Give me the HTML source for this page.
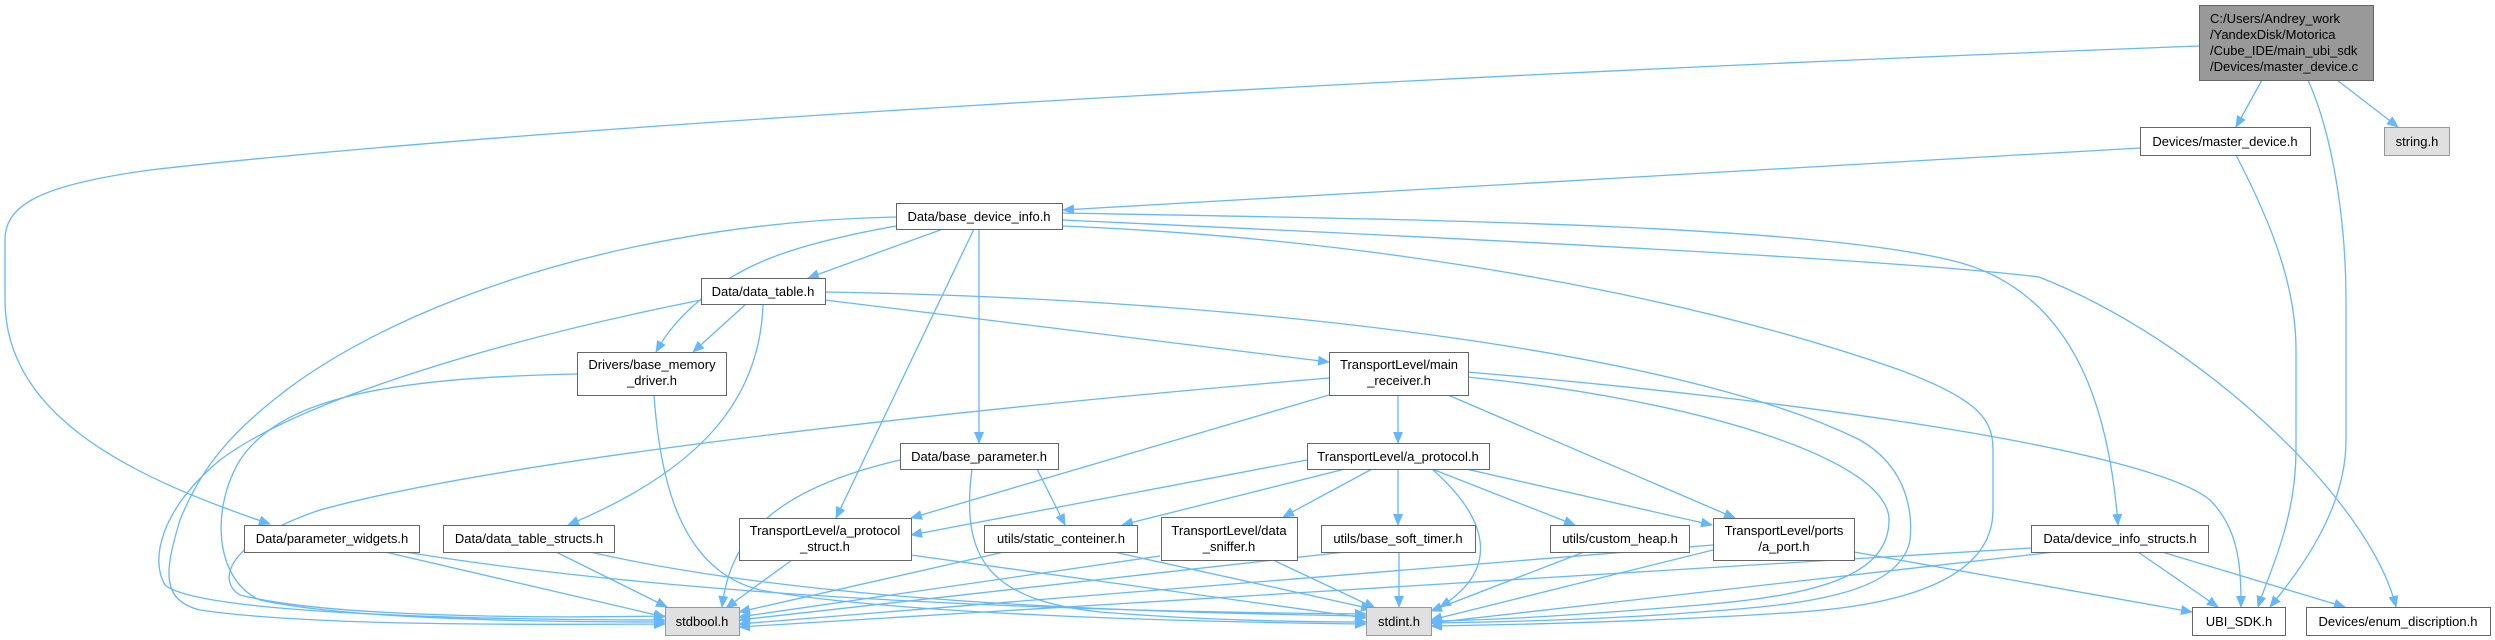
<!DOCTYPE html>
<html><head><meta charset="utf-8">
<style>
html,body{margin:0;padding:0;background:#fff;}
svg{display:block;}
text{font-family:"Liberation Sans",Arial,sans-serif;font-size:13px;fill:#000;}
.e{fill:none;stroke:#63b8ff;stroke-width:1.3;}
.n{fill:#fff;stroke:#666;stroke-width:1;}
.g{fill:#e0e0e0;stroke:#999;stroke-width:1;}
.t{fill:#999;stroke:#666;stroke-width:1;}
</style></head><body>
<svg width="2495" height="640" viewBox="0 0 2495 640" xmlns="http://www.w3.org/2000/svg">
<defs>
<marker id="a" markerWidth="12" markerHeight="10" refX="11" refY="5" orient="auto" markerUnits="userSpaceOnUse">
<path d="M0,0 L12,5 L0,10 z" fill="#63b8ff"/>
</marker>
</defs>
<g marker-end="url(#a)">
<!-- top -->
<path class="e" d="M2199,46 C1300,80 500,130 150,170 C40,185 5,205 5,240 L5,300 C5,420 140,480 270,524"/>
<path class="e" d="M2262,80 L2236,127"/>
<path class="e" d="M2337,80 L2398,127"/>
<path class="e" d="M2308,80 C2335,140 2346,230 2346,300 L2346,440 C2346,510 2300,570 2270,607"/>
<!-- master_device -->
<path class="e" d="M2140,148 L1063,210"/>
<path class="e" d="M2236,155 C2275,230 2296,290 2296,350 L2296,450 C2296,520 2270,570 2258,607"/>
<!-- base_device_info -->
<path class="e" d="M896,217 C650,222 430,290 300,380 C230,430 200,470 180,520 C165,570 160,600 200,610 C300,625 500,625 665,624"/>
<path class="e" d="M943,229 L808,278"/>
<path class="e" d="M896,226 C790,245 740,265 700,300 C670,325 660,345 656,352"/>
<path class="e" d="M974,229 L836,518"/>
<path class="e" d="M979,229 L979,443"/>
<path class="e" d="M1063,226 C1400,240 1700,300 1900,370 C1980,400 1993,420 1993,450 L1993,510 C1993,580 1900,605 1800,612 C1650,622 1500,625 1431,626"/>
<path class="e" d="M1063,213 C1450,220 1800,225 1950,260 C2080,290 2110,420 2118,525"/>
<path class="e" d="M1063,220 C1500,240 1900,260 2039,277 C2200,340 2370,500 2396,607"/>
<!-- data_table -->
<path class="e" d="M701,300 C500,340 300,400 220,460 C160,510 150,560 165,585 C200,615 500,620 665,620"/>
<path class="e" d="M746,304 L693,352"/>
<path class="e" d="M763,304 C760,400 700,470 568,525"/>
<path class="e" d="M825,300 L1329,362"/>
<path class="e" d="M825,292 C1300,300 1700,360 1860,440 C1912,470 1912,520 1910,540 C1900,595 1800,605 1700,612 C1600,620 1500,622 1431,623"/>
<!-- base_memory_driver -->
<path class="e" d="M577,374 C380,378 280,400 240,460 C210,510 215,580 260,600 C350,620 550,622 665,622"/>
<path class="e" d="M654,395 C660,480 680,570 760,590 C900,615 1200,622 1366,624"/>
<!-- main_receiver -->
<path class="e" d="M1329,378 C950,410 500,460 320,510 C230,540 215,580 240,595 C330,618 550,618 665,616"/>
<path class="e" d="M1329,395 L911,518"/>
<path class="e" d="M1398,395 L1398,443"/>
<path class="e" d="M1448,395 L1735,518"/>
<path class="e" d="M1467,377 C1700,400 1889,460 1889,520 C1889,575 1820,595 1700,605 C1580,615 1500,620 1431,621"/>
<path class="e" d="M1467,372 C1800,400 2150,450 2210,500 C2240,530 2241,570 2241,607"/>
<!-- base_parameter -->
<path class="e" d="M900,460 C770,490 730,540 722,607"/>
<path class="e" d="M1037,469 L1065,525"/>
<path class="e" d="M972,469 C960,560 990,600 1100,612 C1200,620 1300,622 1366,622"/>
<!-- a_protocol -->
<path class="e" d="M1307,460 L911,535"/>
<path class="e" d="M1345,469 L1122,525"/>
<path class="e" d="M1372,469 L1283,517"/>
<path class="e" d="M1398,469 L1398,525"/>
<path class="e" d="M1432,469 L1575,525"/>
<path class="e" d="M1466,469 L1712,525"/>
<path class="e" d="M1432,469 C1490,520 1500,570 1440,607"/>
<!-- parameter_widgets -->
<path class="e" d="M385,552 L665,617"/>
<path class="e" d="M405,552 C700,600 1100,612 1366,614"/>
<!-- data_table_structs -->
<path class="e" d="M556,552 L667,607"/>
<path class="e" d="M590,552 C800,600 1100,612 1366,616"/>
<!-- a_protocol_struct -->
<path class="e" d="M792,560 L726,608"/>
<path class="e" d="M911,555 L1366,618"/>
<!-- static_conteiner -->
<path class="e" d="M1004,552 L739,612"/>
<path class="e" d="M1114,552 L1372,609"/>
<!-- data_sniffer -->
<path class="e" d="M1160,556 L739,617"/>
<path class="e" d="M1273,560 L1375,608"/>
<!-- base_soft_timer -->
<path class="e" d="M1345,552 L739,620"/>
<path class="e" d="M1399,552 L1399,607"/>
<!-- custom_heap -->
<path class="e" d="M1584,552 L1431,611"/>
<!-- a_port -->
<path class="e" d="M1713,545 L739,624"/>
<path class="e" d="M1713,550 L1431,620"/>
<path class="e" d="M1854,552 L2192,612"/>
<!-- device_info_structs -->
<path class="e" d="M2031,548 L739,627"/>
<path class="e" d="M2055,552 L1431,623"/>
<path class="e" d="M2138,552 L2218,607"/>
<path class="e" d="M2162,552 L2345,607"/>
</g>

<!-- nodes -->
<rect class="t" x="2199.5" y="5.5" width="174" height="75"/>
<text x="2210" y="23">C:/Users/Andrey_work</text>
<text x="2210" y="39">/YandexDisk/Motorica</text>
<text x="2210" y="55">/Cube_IDE/main_ubi_sdk</text>
<text x="2210" y="71">/Devices/master_device.c</text>

<rect class="n" x="2140.5" y="127.5" width="170" height="28"/>
<text x="2225" y="146" text-anchor="middle">Devices/master_device.h</text>
<rect class="g" x="2384.5" y="127.5" width="65" height="28"/>
<text x="2417" y="146" text-anchor="middle">string.h</text>

<rect class="n" x="896.5" y="203.5" width="166" height="26"/>
<text x="979" y="221" text-anchor="middle">Data/base_device_info.h</text>

<rect class="n" x="701.5" y="278.5" width="124" height="26"/>
<text x="763" y="296" text-anchor="middle">Data/data_table.h</text>

<rect class="n" x="577.5" y="352.5" width="149" height="43"/>
<text x="652" y="369" text-anchor="middle">Drivers/base_memory</text>
<text x="652" y="385" text-anchor="middle">_driver.h</text>

<rect class="n" x="1329.5" y="352.5" width="139" height="43"/>
<text x="1399" y="369" text-anchor="middle">TransportLevel/main</text>
<text x="1399" y="385" text-anchor="middle">_receiver.h</text>

<rect class="n" x="900.5" y="443.5" width="158" height="26"/>
<text x="979" y="461" text-anchor="middle">Data/base_parameter.h</text>

<rect class="n" x="1307.5" y="443.5" width="182" height="26"/>
<text x="1398" y="461" text-anchor="middle">TransportLevel/a_protocol.h</text>

<rect class="n" x="244.5" y="525.5" width="175" height="27"/>
<text x="332" y="543" text-anchor="middle">Data/parameter_widgets.h</text>

<rect class="n" x="443.5" y="525.5" width="171" height="27"/>
<text x="529" y="543" text-anchor="middle">Data/data_table_structs.h</text>

<rect class="n" x="739.5" y="518.5" width="172" height="42"/>
<text x="825" y="535" text-anchor="middle">TransportLevel/a_protocol</text>
<text x="825" y="551" text-anchor="middle">_struct.h</text>

<rect class="n" x="984.5" y="525.5" width="153" height="27"/>
<text x="1061" y="543" text-anchor="middle">utils/static_conteiner.h</text>

<rect class="n" x="1161.5" y="517.5" width="136" height="43"/>
<text x="1229" y="535" text-anchor="middle">TransportLevel/data</text>
<text x="1229" y="551" text-anchor="middle">_sniffer.h</text>

<rect class="n" x="1321.5" y="525.5" width="154" height="27"/>
<text x="1398" y="543" text-anchor="middle">utils/base_soft_timer.h</text>

<rect class="n" x="1550.5" y="525.5" width="139" height="27"/>
<text x="1620" y="543" text-anchor="middle">utils/custom_heap.h</text>

<rect class="n" x="1713.5" y="518.5" width="141" height="42"/>
<text x="1784" y="535" text-anchor="middle">TransportLevel/ports</text>
<text x="1784" y="551" text-anchor="middle">/a_port.h</text>

<rect class="n" x="2031.5" y="525.5" width="177" height="27"/>
<text x="2120" y="543" text-anchor="middle">Data/device_info_structs.h</text>

<rect class="g" x="665.5" y="607.5" width="74" height="28"/>
<text x="702" y="626" text-anchor="middle">stdbool.h</text>

<rect class="g" x="1366.5" y="607.5" width="65" height="28"/>
<text x="1399" y="626" text-anchor="middle">stdint.h</text>

<rect class="n" x="2192.5" y="607.5" width="93" height="28"/>
<text x="2239" y="626" text-anchor="middle">UBI_SDK.h</text>

<rect class="n" x="2306.5" y="607.5" width="184" height="28"/>
<text x="2398" y="626" text-anchor="middle">Devices/enum_discription.h</text>
</svg>
</body></html>
